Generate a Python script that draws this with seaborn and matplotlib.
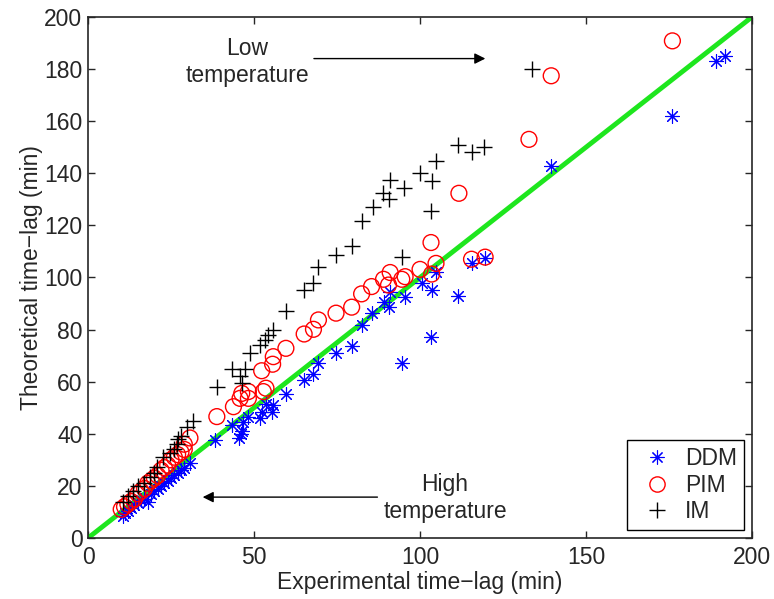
import numpy as np
import pandas as pd
import matplotlib
matplotlib.use("Agg")
import matplotlib.pyplot as plt
import seaborn as sns
from matplotlib.lines import Line2D

# experimental vs theoretical time-lag (min)
ddm_x = [10.5, 11, 12, 13, 14, 15, 16, 17, 18, 19, 20, 21, 22, 23, 24, 25, 26, 27, 28, 29,
         30.7, 38.3, 43.3, 45.5, 46, 46.5, 46.8, 48.3, 51.8, 52.3, 53.6, 55.3, 55.8, 59.6,
         65.2, 67.9, 69.4, 74.7, 79.4, 82.4, 85.4, 89, 90.7, 91, 94.5, 95.5, 100.5, 103.5,
         103.3, 104.8, 111.5, 115.5, 119.6, 139.4, 176, 189.2, 191.9]
ddm_y = [8.5, 9.5, 10.5, 11.5, 12.5, 13.5, 14.5, 15, 14, 17, 18, 19, 20, 21, 22, 23, 24, 25, 26, 27,
         28.8, 37.6, 43.4, 38.5, 40, 41, 44.6, 46.6, 46, 48.5, 51.4, 48.5, 51.1, 55.2,
         60.7, 63, 67.3, 70.9, 73.7, 81.8, 86.5, 90.7, 88.8, 94.6, 67, 92.6, 97.8, 95.2,
         77, 102.2, 92.9, 105.4, 107.4, 142.8, 162.1, 183.2, 185.1]

pim_x = [10, 11, 12, 13, 14, 15, 16, 17, 18, 19, 20, 21, 22, 23, 24, 25, 26, 27, 28, 29, 29,
         30.7, 38.8, 43.8, 45.8, 46.3, 48.3, 48.3, 52.8, 53.6, 52.3, 55.6, 55.8, 59.6, 65.1,
         67.9, 69.4, 74.7, 79.4, 82.4, 85.4, 89, 90.5, 91, 94.5, 95.5, 100, 103.5, 104.8,
         103.3, 111.7, 115.5, 119.6, 132.8, 139.5, 176]
pim_y = [11, 12, 13, 14, 15, 17, 18, 19, 21, 22, 23, 24, 26, 27, 28, 30, 31, 32, 33, 34, 36,
         38.4, 46.6, 50.4, 53.6, 55.5, 53.6, 56.2, 56.2, 57.5, 64.2, 66.7, 69.6, 72.8, 78.3,
         80.1, 83.7, 86.3, 88.6, 93.7, 96.5, 99.3, 97.1, 101.9, 99.3, 100.3, 103.1, 101.3, 105.4,
         113.4, 132.3, 107, 107.8, 153, 177.4, 190.8]

im_x = [10.6, 12, 13.6, 15, 17, 18.7, 20, 20.7, 22.7, 24.7, 26, 26.7, 27, 28, 29.7, 31.7,
        38.8, 43.3, 45.8, 46.3, 47.3, 48.8, 51.8, 53.3, 54.3, 55.8, 59.6, 65.2, 67.9, 69.4,
        74.7, 79.4, 82.4, 85.7, 88.9, 90.5, 91, 95.2, 94.5, 100, 103.5, 103.3, 104.8, 111.4,
        115.5, 119.4, 133.7]
im_y = [14, 16, 18, 20, 21, 23.5, 25, 27.4, 31, 32.5, 34, 36, 38, 39, 42.7, 45,
        58, 65, 62, 59.4, 65, 71, 74, 76, 78, 80, 87, 95, 98, 104,
        108.6, 112, 121.7, 127, 132.6, 130, 137.4, 134.5, 108, 140, 137, 125.6, 144.8, 151,
        148.3, 150, 180]

models = ["DDM", "PIM", "IM"]

sns.set_style("ticks")
plt.rcParams["font.family"] = ["Liberation Sans", "DejaVu Sans"]
FS = 16.5

fig = plt.figure(figsize=(7.74, 5.99), dpi=100)
ax = fig.add_axes([0.1137, 0.1018, 0.858, 0.870])

asterisk = (8, 2, 0)
sns.scatterplot(x=ddm_x, y=ddm_y, marker=asterisk, s=100, color="blue",
                linewidth=0.8, ax=ax, zorder=3)
sns.scatterplot(x=pim_x, y=pim_y, marker="o", s=130, facecolors="none",
                edgecolor="red", linewidth=1.0, ax=ax, zorder=3)
sns.scatterplot(x=im_x, y=im_y, marker="+", s=140, color="black",
                linewidth=1.0, ax=ax, zorder=3)

sns.lineplot(x=[0, 200], y=[0, 200], color="#1ee61e", linewidth=3.5, ax=ax, zorder=2)

ax.set_xlim(0, 200)
ax.set_ylim(0, 200)
ax.set_xticks([0, 50, 100, 150, 200])
ax.set_yticks(np.arange(0, 201, 20))
ax.tick_params(direction="in", top=True, right=True, labelsize=FS, length=5, width=1)
ax.tick_params(axis="x", pad=6)
ax.tick_params(axis="y", pad=4)
for sp in ax.spines.values():
    sp.set_visible(True)
    sp.set_linewidth(1.2)
ax.set_xlabel("Experimental time\u2212lag (min)", fontsize=FS, labelpad=1)
ax.set_ylabel("Theoretical time\u2212lag (min)", fontsize=FS, labelpad=1)

ax.annotate("", xy=(120.5, 184), xytext=(67.2, 184),
            arrowprops=dict(arrowstyle="-|>", color="black", lw=1, mutation_scale=16))
ax.text(47.9, 182.7, "Low\ntemperature", ha="center", va="center", fontsize=FS,
        linespacing=1.2)
ax.annotate("", xy=(33.7, 15.7), xytext=(88, 15.7),
            arrowprops=dict(arrowstyle="-|>", color="black", lw=1, mutation_scale=16))
ax.text(107.5, 15.3, "High\ntemperature", ha="center", va="center", fontsize=FS,
        linespacing=1.2)

handles = [
    Line2D([], [], marker=asterisk, color="blue", linestyle="none", markersize=10, markeredgewidth=0.8),
    Line2D([], [], marker="o", markerfacecolor="none", markeredgecolor="red",
           linestyle="none", markersize=11, markeredgewidth=1),
    Line2D([], [], marker="+", color="black", linestyle="none", markersize=12, markeredgewidth=1),
]
leg = ax.legend(handles, models, loc="lower right", fontsize=FS, frameon=True,
                fancybox=False, edgecolor="black", framealpha=1,
                borderaxespad=0.35, borderpad=0.3, handletextpad=0.25,
                labelspacing=0.15)
leg.get_frame().set_linewidth(1.0)

fig.savefig("out.png", dpi=100)
